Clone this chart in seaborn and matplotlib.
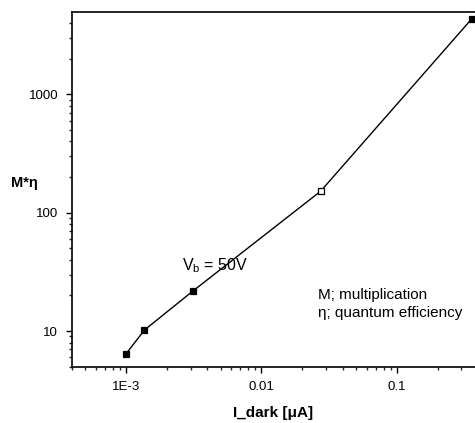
import matplotlib
matplotlib.use("Agg")
import matplotlib.pyplot as plt
import matplotlib.ticker as mticker
import seaborn as sns
import pandas as pd

i_dark = [1.0e-3, 1.37e-3, 3.14e-3, 0.0274, 0.357]
m_eta = [6.4, 10.2, 21.9, 152, 4340]
marker_fill = ["black", "black", "black", "white", "black"]

xticks = [1e-3, 0.01, 0.1]
xticklabels = ["1E-3", "0.01", "0.1"]
yticks = [10, 100, 1000]
yticklabels = ["10", "100", "1000"]

df = pd.DataFrame({"I_dark": i_dark, "M_eta": m_eta, "fill": marker_fill})

sns.set_theme(style="ticks")
plt.rcParams['font.family'] = ['Liberation Sans Narrow', 'Liberation Sans', 'DejaVu Sans']
plt.rcParams['text.color'] = 'black'
plt.rcParams['axes.labelcolor'] = 'black'

fig = plt.figure(figsize=(4.75, 4.23), dpi=100)
ax = fig.add_axes([72/475, 56/423, 403/475, 355/423])

sns.lineplot(data=df, x="I_dark", y="M_eta", ax=ax, color="black", linewidth=1.0,
             estimator=None, sort=False)
for _, r in df.iterrows():
    ax.plot(r["I_dark"], r["M_eta"], marker="s", markersize=5,
            markerfacecolor=r["fill"], markeredgecolor="black", markeredgewidth=0.9,
            linestyle="none")

ax.set_xscale("log")
ax.set_yscale("log")
ax.set_xlim(4.0e-4, 0.378)
ax.set_ylim(4.97, 4970)

ax.set_xticks(xticks)
ax.set_xticklabels(xticklabels)
ax.set_yticks(yticks)
ax.set_yticklabels(yticklabels)
ax.xaxis.set_minor_locator(mticker.LogLocator(base=10, subs=range(2, 10)))
ax.yaxis.set_minor_locator(mticker.LogLocator(base=10, subs=range(2, 10)))
ax.xaxis.set_minor_formatter(mticker.NullFormatter())
ax.yaxis.set_minor_formatter(mticker.NullFormatter())

ax.tick_params(axis="both", which="major", direction="out", length=4, width=1,
               labelsize=9.5, colors="black", pad=6)
ax.tick_params(axis="both", which="minor", direction="out", length=2.5, width=1)
ax.tick_params(top=False, right=False)

for s in ["left", "bottom", "top"]:
    ax.spines[s].set_linewidth(1.2)
    ax.spines[s].set_color("black")
ax.spines["right"].set_visible(False)

ax.set_xlabel("I_dark [μA]", fontsize=11, fontweight="bold", labelpad=9.5, color="black")
ax.set_ylabel("M*η", fontsize=10.5, fontweight="bold", rotation=0, color="black")
ax.yaxis.set_label_coords(-0.117, 0.5)

ax.text(2.6e-3, 36, r"V$_\mathregular{b}$ = 50V", fontsize=11.5, ha="left", va="center",
        color="black")
ax.text(0.0262, 16.9, "M; multiplication\nη; quantum efficiency", fontsize=11,
        ha="left", va="center", linespacing=1.3, color="black")

fig.savefig("out.png", dpi=100)
